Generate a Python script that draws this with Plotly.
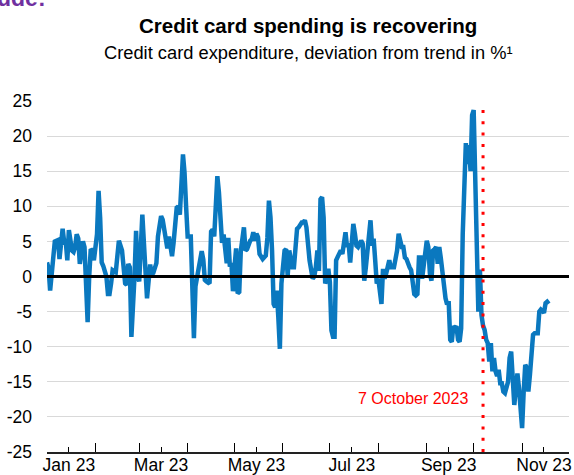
import pandas as pd
import plotly.graph_objects as go

# Day offsets from 1 Jan 2023 and deviation from trend (%)
day_offsets = [
    0, 1, 2, 3, 5, 7, 8, 10, 11, 12, 13, 14, 16, 17, 18, 19, 20, 21, 22, 23, 24, 25, 26, 27, 28, 29, 30,
    32, 33, 34, 35, 36, 38, 39, 40, 41, 42, 44, 45, 46, 48, 49, 50, 51, 52, 53, 54, 56, 57, 58, 59, 61,
    63, 64, 66, 67, 68, 70, 71, 73, 74, 76, 77, 78, 80, 81, 83, 84, 85, 87, 88, 89, 90, 92, 93, 94, 95,
    97, 99, 100, 101, 102, 104, 105, 106, 107, 109, 110, 111, 112, 113, 115, 116, 117, 118, 119, 120,
    121, 122, 123, 124, 126, 127, 128, 130, 131, 132, 133, 134, 135, 136, 138, 140, 141, 142, 143, 144,
    145, 146, 147, 148, 149, 150, 152, 153, 154, 155, 157, 158, 159, 160, 161, 163, 164, 165, 166, 167,
    168, 170, 171, 172, 173, 174, 175, 176, 177, 178, 179, 180, 181, 182, 183, 184, 185, 186, 188, 189,
    190, 191, 192, 193, 194, 196, 197, 198, 199, 201, 202, 203, 204, 206, 207, 208, 209, 210, 211, 212,
    214, 215, 216, 217, 218, 219, 220, 222, 223, 224, 225, 226, 227, 228, 229, 230, 231, 232, 233, 234,
    235, 236, 237, 238, 239, 240, 242, 243, 244, 245, 246, 247, 248, 249, 250, 251, 252, 253, 254, 255,
    256, 257, 258, 259, 260, 261, 262, 263, 264, 265, 266, 267, 268, 269, 270, 271, 272, 273, 274, 275,
    276, 277, 278, 279, 280, 281, 282, 283, 284, 285, 286, 287, 288, 289, 290, 291, 292, 293, 294, 295,
    296, 297, 298, 299, 300, 301, 302, 303, 304, 305, 306, 307, 308, 309, 310, 311, 312, 313, 314, 315,
    316, 317, 318, 319, 320, 321,
]
deviation = [
    2.0, 1.2, -2.0, 0.2, 5.0, 5.2, 2.5, 6.8, 4.9, 5.0, 2.3, 6.6, 3.7, 3.5, 4.2, 6.0, 5.4, 1.8, 3.2, 5.0, 4.2, 0.0, -6.5, 0.0, 3.9, 3.7, 2.3,
    6.0, 12.2, 8.4, 2.0, 1.5, 0.0, -2.5, -2.5, -1.0, 0.9, 0.6, 3.2, 5.1, 3.7, 1.3, -1.0, -1.2, 1.8, 1.3, -8.6, 0.0, 6.5, 0.0, -0.7, 8.8,
    1.4, -3.1, 1.7, 0.3, 0.5, 1.9, 5.7, 8.6, 8.1, 4.5, 4.0, 5.7, 2.9, 4.8, 9.8, 10.0, 8.8, 17.4, 14.8, 10.0, 5.7, 5.7, 0.0, -8.8, -1.4,
    1.4, 3.6, 2.4, -0.5, -0.7, -1.0, 6.4, 6.7, 5.7, 14.3, 12.0, 8.1, 4.8, 6.0, 1.9, 5.5, 1.4, 1.9, -2.1, 1.4,
    4.0, -2.4, -2.2, 3.6, 7.0, 3.7, 3.9, 5.1, 5.3, 6.3, 5.1, 6.1, 5.6, 3.2, 2.5, 3.0, 5.5, 10.8, 8.4, 3.7,
    -3.9, -4.4, -2.0, -5.8, -10.3, -1.0, 3.7, 3.9, 0.1, 3.7, 1.3, 1.3, 4.9, 6.8, 7.0, 7.7, 7.7, 8.0, 7.0, 3.7,
    2.3, -0.3, 0.0, 1.3, 3.7, 0.8, 11.0, 11.3, 8.4, -1.0, -0.3, 1.1, -0.8, -7.7, -8.6, -8.6, 2.3, 2.8, 3.7, 3.2,
    4.5, 6.3, 4.2, 4.7, 2.0, 7.5, 6.1, 4.4, 4.2, 5.1, 4.7, -0.6, 1.3, 5.1, 8.0, 4.4, 5.4, 2.3, -1.0, -0.3,
    -3.9, 1.1, -0.3, 0.4, 1.6, 2.3, 1.3, 1.3, 2.5, 3.7, 6.1, 5.1, 4.2, 4.2, 2.7, 2.5, 1.6, 1.3, 0.9, -1.0,
    -2.5, -2.7, -2.5, 2.7, 2.7, -0.3, 2.7, 5.1, 4.2, 0.4, -0.6, 3.7, 3.9, 4.2, 1.8, 4.2, 2.6, 0.2, -1.7, -3.1,
    -4.0, -3.5, -9.0, -9.3, -7.1, -7.3, -7.1, -9.0, -9.3, -7.4, 6.0, 11.0, 19.0, 16.0, 18.7, 15.0, 23.0, 23.7, 12.0, 1.5,
    -5.0, 1.0, -5.5, -7.0, -7.6, -9.0, -9.5, -12.1, -9.5, -13.5, -11.6, -13.5, -14.2, -13.3, -15.2, -15.2, -16.4, -16.6, -15.4, -15.0,
    -11.6, -10.7, -14.5, -18.3, -15.9, -13.8, -15.9, -19.7, -21.6, -16.4, -12.6, -13.0, -16.4, -14.0, -10.2, -8.3, -8.1, -8.1, -8.1, -5.0,
    -4.7, -4.9, -5.2, -3.8, -3.6, -3.9,
]

y_ticks = [-25, -20, -15, -10, -5, 0, 5, 10, 15, 20, 25]
y_tick_labels = ["-25", "-20", "-15", "-10", "-5", "0", "5", "10", "15", "20", "25"]
x_label_dates = ["2023-01-15", "2023-03-15", "2023-05-15", "2023-07-15", "2023-09-15", "2023-11-15"]
x_labels = ["Jan 23", "Mar 23", "May 23", "Jul 23", "Sep 23", "Nov 23"]
month_starts = [f"2023-{m:02d}-01" for m in range(1, 13)]
event_date = "2023-10-07"
event_label = "7 October 2023"

dates = (pd.Timestamp("2023-01-01") + pd.to_timedelta(day_offsets, unit="D")).strftime("%Y-%m-%d").tolist()

FONT = "Liberation Sans, Arial, sans-serif"
BLUE = "#0a78bf"

fig = go.Figure()
fig.add_trace(go.Scatter(
    x=dates, y=deviation, mode="lines",
    line=dict(color=BLUE, width=4.5),
    hoverinfo="skip", showlegend=False,
))

fig.add_shape(type="line", xref="paper", yref="y", x0=0, x1=1, y0=0, y1=0,
              line=dict(color="black", width=3), layer="above")
fig.add_shape(type="line", xref="x", yref="y", x0=event_date, x1=event_date, y0=-25, y1=23.8,
              line=dict(color="#ff0000", width=3, dash="3px,8.3px"), layer="above")

fig.add_annotation(x=event_date, y=-17.4, xref="x", yref="y", text=event_label,
                   showarrow=False, xanchor="right", yanchor="middle", xshift=-13,
                   font=dict(family=FONT, size=16, color="#ff0000"))

fig.add_annotation(x=0.5, y=1.2165, xref="paper", yref="paper",
                   text="<b>Credit card spending is recovering</b>", showarrow=False,
                   xanchor="center", yanchor="middle",
                   font=dict(family=FONT, size=20.5, color="black"))
fig.add_annotation(x=0.5, y=1.1396, xref="paper", yref="paper",
                   text="Credit card expenditure, deviation from trend in %¹", showarrow=False,
                   xanchor="center", yanchor="middle",
                   font=dict(family=FONT, size=18.3, color="black"))
fig.add_annotation(x=-0.1, y=1.25, xref="paper", yref="paper",
                   text="<b>ude:</b>", showarrow=False, xanchor="left", yanchor="bottom",
                   font=dict(family=FONT, size=23, color="#7030a0"))

fig.update_layout(
    width=574, height=475,
    margin=dict(l=47, r=5, t=101, b=23),
    paper_bgcolor="white", plot_bgcolor="white",
    font=dict(family=FONT, size=17.5, color="black"),
    xaxis=dict(
        type="date", range=["2023-01-01", "2023-12-01"], automargin=False,
        tickmode="array", tickvals=x_label_dates, ticktext=x_labels,
        ticks="inside", ticklen=5, tickwidth=1, tickcolor="black",
        showline=True, linecolor="#222", linewidth=1.5,
        showgrid=False, zeroline=False, ticklabelstandoff=-4,
        minor=dict(tickmode="array", tickvals=month_starts, ticks="inside",
                   ticklen=9, tickwidth=1, tickcolor="black", showgrid=False),
        tickfont=dict(family=FONT, size=17.5, color="black"),
    ),
    yaxis=dict(
        range=[-25, 25], tickmode="array", tickvals=y_ticks, ticktext=y_tick_labels,
        showgrid=True, gridcolor="#d9d9d9", gridwidth=1, zeroline=False, automargin=False,
        showline=False, ticks="", ticklabelstandoff=14,
        tickfont=dict(family=FONT, size=17.5, color="black"),
    ),
)

fig.write_html("out.html", config={"displayModeBar": False},
               post_script="document.body.style.margin='0';")
